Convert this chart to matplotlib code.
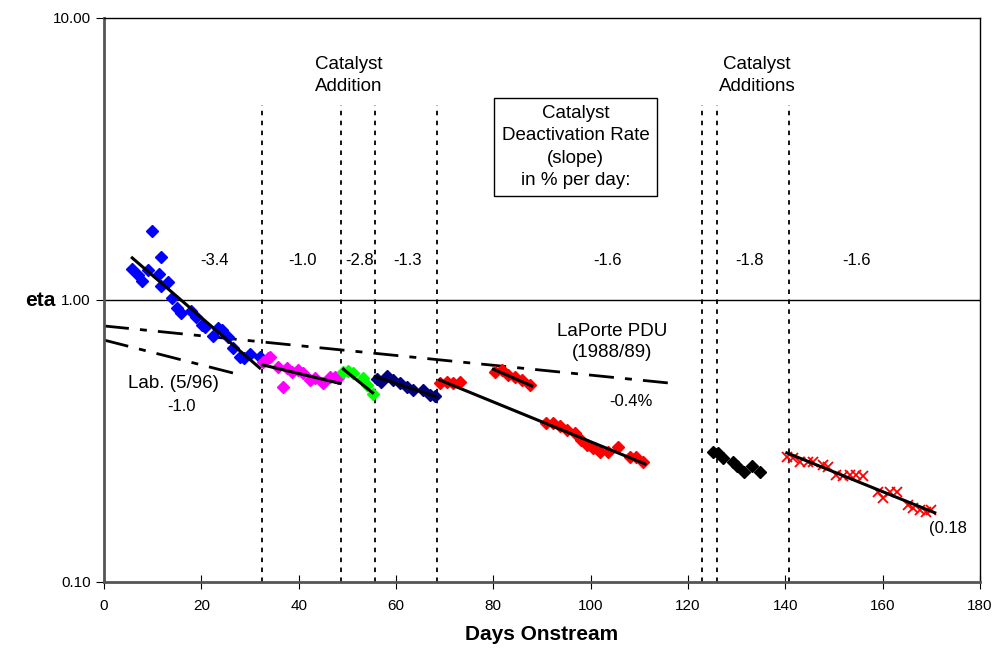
import matplotlib
matplotlib.use("Agg")
import matplotlib.pyplot as plt
from matplotlib.ticker import FixedLocator, NullLocator

plt.rcParams['font.family'] = ['Liberation Sans', 'DejaVu Sans']

# data (days, eta)
blue_x = [5.8, 6.9, 7.9, 9.1, 9.9, 11.2, 11.8, 11.8, 13.1, 13.9, 15.1, 15.9, 17.9, 19.0,
          20.1, 20.8, 22.3, 23.5, 24.3, 25.4, 26.6, 27.9, 28.8, 30.1, 32.1]
blue_y = [1.29, 1.23, 1.17, 1.28, 1.76, 1.24, 1.42, 1.12, 1.16, 1.02, 0.933, 0.897, 0.916, 0.873,
          0.815, 0.804, 0.745, 0.793, 0.783, 0.737, 0.674, 0.629, 0.621, 0.641, 0.629]
magenta_x = [32.7, 33.8, 34.1, 35.8, 36.8, 37.5, 38.6, 39.9, 40.9, 42.3, 43.4, 45.1, 46.4, 47.5, 48.1]
magenta_y = [0.604, 0.621, 0.629, 0.580, 0.493, 0.573, 0.557, 0.565, 0.550, 0.520, 0.527, 0.507,
             0.535, 0.535, 0.527]
green_x = [49.2, 50.2, 51.2, 53.3, 54.0, 55.2]
green_y = [0.557, 0.561, 0.550, 0.527, 0.499, 0.463]
navy_x = [56.0, 57.0, 58.1, 59.4, 60.8, 62.2, 63.5, 65.6, 67.0, 68.0]
navy_y = [0.523, 0.513, 0.538, 0.520, 0.506, 0.493, 0.480, 0.480, 0.461, 0.455]
red_x = [69.0, 70.4, 71.8, 73.1, 80.3, 81.7, 83.1, 84.4, 85.8, 87.5,
         90.9, 92.3, 93.7, 95.1, 96.8, 98.1, 99.2, 100.5, 101.9, 103.6, 105.7, 108.1, 109.4, 110.8]
red_y = [0.506, 0.513, 0.506, 0.513, 0.557, 0.565, 0.542, 0.535, 0.520, 0.499,
         0.365, 0.367, 0.357, 0.346, 0.338, 0.319, 0.306, 0.298, 0.290, 0.290, 0.302, 0.278, 0.278, 0.267]
black_x = [125.2, 126.2, 127.2, 129.3, 130.0, 131.4, 133.1, 134.8]
black_y = [0.290, 0.286, 0.275, 0.267, 0.257, 0.246, 0.257, 0.246]
cross_x = [140.3, 141.6, 143.0, 144.7, 145.7, 147.8, 148.8, 150.5, 151.9, 153.3, 154.6, 156.0,
           159.1, 160.1, 161.5, 162.9, 165.3, 166.3, 167.7, 169.0, 170.0]
cross_y = [0.278, 0.275, 0.267, 0.267, 0.267, 0.260, 0.256, 0.240, 0.237, 0.240, 0.240, 0.237,
           0.209, 0.198, 0.209, 0.209, 0.188, 0.183, 0.180, 0.177, 0.180]

# fitted trend segments: (x0, x1), (y0, y1)
fits = [((5.8, 32.0), (1.41, 0.574)),
        ((32.7, 48.5), (0.588, 0.506)),
        ((49.2, 55.2), (0.568, 0.469)),
        ((55.7, 68.3), (0.535, 0.454)),
        ((69.0, 111.2), (0.520, 0.262)),
        ((80.0, 87.9), (0.568, 0.496)),
        ((140.3, 170.7), (0.287, 0.176))]
laporte_x = [0, 115.9]
laporte_y = [0.809, 0.508]
lab_x = [0, 26.5]
lab_y = [0.721, 0.551]

additions = [32.5, 48.7, 55.7, 68.4, 122.9, 126.0, 140.7]
slope_labels = ["-3.4", "-1.0", "-2.8", "-1.3", "-1.6", "-1.8", "-1.6"]
slope_label_x = [22.8, 40.7, 52.6, 62.3, 103.4, 132.7, 154.7]

fig = plt.figure(figsize=(9.98, 6.54), dpi=100)
ax = fig.add_axes([0.1042, 0.1101, 0.8778, 0.8624])
ax.set_yscale('log')
ax.set_xlim(0, 180)
ax.set_ylim(0.1, 10)

ax.axhline(1.0, color='black', lw=1)
for d in additions:
    ax.plot([d, d], [0.1, 4.9], color='black', lw=1.3, linestyle=(0, (2.5, 3)))

ax.plot(laporte_x, laporte_y, color='black', lw=2, dashes=(9, 4, 2.5, 4))
ax.plot(lab_x, lab_y, color='black', lw=2, dashes=(9, 4, 2.5, 4))

ms = 6.3
ax.plot(blue_x, blue_y, 'D', color='#0000ff', ms=ms)
ax.plot(magenta_x, magenta_y, 'D', color='#ff00ff', ms=ms)
ax.plot(green_x, green_y, 'D', color='#00ff00', ms=ms)
ax.plot(navy_x, navy_y, 'D', color='#000080', ms=ms)
ax.plot(red_x, red_y, 'D', color='#ff0000', ms=ms)
ax.plot(black_x, black_y, 'D', color='black', ms=ms)
ax.plot(cross_x, cross_y, 'x', color='#ff0000', ms=7.5, mew=1.3)

for (fx, fy) in fits:
    ax.plot(fx, fy, color='black', lw=2.2)

ax.yaxis.set_major_locator(FixedLocator([0.1, 1, 10]))
ax.yaxis.set_minor_locator(NullLocator())
ax.set_yticklabels(["0.10", "1.00", "10.00"])
ax.set_xticks(range(0, 181, 20))
ax.tick_params(axis='y', direction='out', length=6, labelsize=11)
ax.tick_params(axis='x', direction='inout', length=10, labelsize=11, pad=7)
for s in ax.spines.values():
    s.set_linewidth(1)
ax.spines['left'].set_color('#555555')
ax.spines['bottom'].set_color('#555555')
ax.spines['left'].set_linewidth(2)
ax.spines['bottom'].set_linewidth(2)

ax.set_xlabel("Days Onstream", fontsize=15, fontweight='bold', labelpad=9)
fig.text(0.04, 0.541, "eta", fontsize=15, fontweight='bold', ha='center', va='center')

fs = 12
tfs = 13.5
for lbl, lx in zip(slope_labels, slope_label_x):
    ax.text(lx, 1.38, lbl, fontsize=fs, ha='center', va='center')
ax.text(50.3, 6.25, "Catalyst\nAddition", fontsize=tfs, ha='center', va='center',
        linespacing=1.4)
ax.text(134.2, 6.25, "Catalyst\nAdditions", fontsize=tfs, ha='center', va='center',
        linespacing=1.4)
ax.text(96.9, 3.49, "Catalyst\nDeactivation Rate\n(slope)\nin % per day:", fontsize=tfs,
        ha='center', va='center', linespacing=1.4,
        bbox=dict(boxstyle='square,pad=0.4', fc='white', ec='black', lw=1))
ax.text(104.4, 0.71, "LaPorte PDU\n(1988/89)", fontsize=tfs, ha='center', va='center',
        linespacing=1.35)
ax.text(108.3, 0.435, "-0.4%", fontsize=fs, ha='center', va='center')
ax.text(14.2, 0.504, "Lab. (5/96)", fontsize=tfs, ha='center', va='center')
ax.text(16.0, 0.418, "-1.0", fontsize=fs, ha='center', va='center')
ax.text(173.5, 0.155, "(0.18", fontsize=fs, ha='center', va='center')

fig.savefig("out.png", dpi=100)
